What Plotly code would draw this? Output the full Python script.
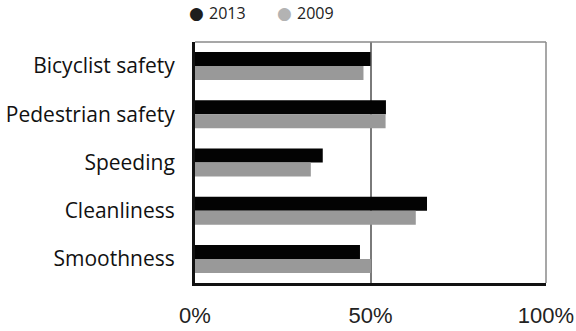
import plotly.graph_objects as go

categories = ["Bicyclist safety", "Pedestrian safety", "Speeding", "Cleanliness", "Smoothness"]
share_2013 = [0.50, 0.544, 0.364, 0.661, 0.47]
share_2009 = [0.48, 0.543, 0.33, 0.629, 0.501]
series_names = ["2013", "2009"]
bar_colors = ["#030303", "#999999"]
legend_dot_colors = ["#1e1e1e", "#b3b3b3"]

label_font = "Open Sans, Noto Sans, sans-serif"

fig = go.Figure()
for name, vals, col in zip(series_names, [share_2013, share_2009], bar_colors):
    fig.add_trace(go.Bar(
        y=categories, x=vals, name=name, orientation="h",
        marker=dict(color=col, line=dict(width=0)),
        showlegend=False,
    ))

# legend row above the plot: a coloured dot followed by the series name
legend_y = 1.122
for i, (name, col) in enumerate(zip(series_names, legend_dot_colors)):
    x0 = 0.004 + i * 0.252
    fig.add_annotation(text="●", xref="paper", yref="paper", x=x0, y=legend_y,
                       xanchor="center", yanchor="middle", showarrow=False,
                       font=dict(family="DejaVu Sans", size=17, color=col))
    fig.add_annotation(text=name, xref="paper", yref="paper", x=x0 + 0.029, y=legend_y,
                       xanchor="left", yanchor="middle", showarrow=False,
                       font=dict(family=label_font, size=16, color="#222"))

# thin grey frame along the top and right
fig.add_shape(type="line", xref="paper", yref="paper", x0=0, x1=1, y0=1, y1=1,
              line=dict(color="#8a8a8a", width=1.5))
fig.add_shape(type="line", xref="paper", yref="paper", x0=1, x1=1, y0=0, y1=1,
              line=dict(color="#8a8a8a", width=1.5))

fig.update_layout(
    width=576, height=331,
    margin=dict(l=195, r=30, t=42, b=48),
    paper_bgcolor="white", plot_bgcolor="white",
    barmode="group", bargap=0.42, bargroupgap=0,
    xaxis=dict(
        range=[0, 1], dtick=0.5, tickformat=".0%", automargin=False,
        showgrid=True, gridcolor="#7a7a7a", gridwidth=1.5,
        zeroline=False, showline=True, linecolor="#111", linewidth=3,
        ticks="", ticklabelstandoff=11,
        tickfont=dict(family="Liberation Sans, Arial, sans-serif", size=22, color="#222"),
    ),
    yaxis=dict(
        autorange="reversed", showgrid=False, zeroline=False, automargin=False,
        showline=True, linecolor="#111", linewidth=3,
        ticks="", ticklabelstandoff=13,
        tickfont=dict(family=label_font, size=21, color="#111"),
    ),
)

fig.write_html("out.html")
